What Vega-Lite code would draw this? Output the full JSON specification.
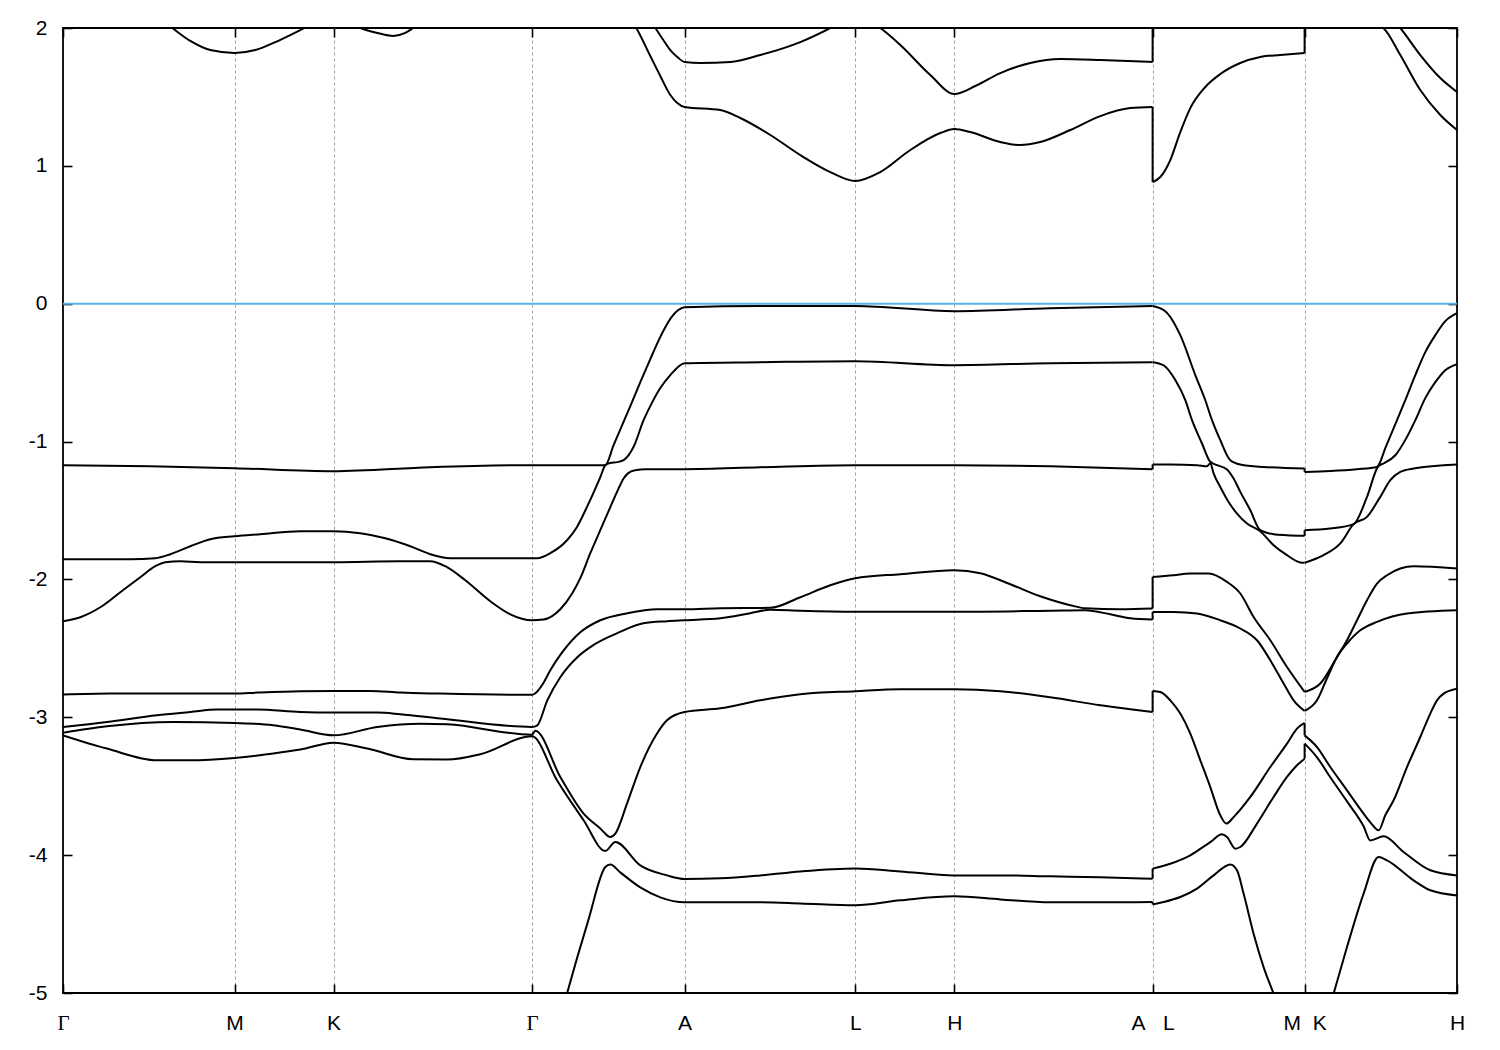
{
"$schema": "https://vega.github.io/schema/vega-lite/v6.json",
"width": 1394, "height": 965,
"autosize": {"type": "none"},
"padding": {"left": 63, "top": 28, "right": 43, "bottom": 57},
"background": "white",
"config": {
  "view": {"stroke": "black", "strokeWidth": 1.8},
  "axis": {"labelFont": "Liberation Sans", "labelFontSize": 21, "labelColor": "black", "tickColor": "black", "tickWidth": 1.6, "domain": false, "title": null, "labelFlush": false, "labelOverlap": false}
},
"datasets": {
"jumps": [
{"k":10.896,"e1":-1.200,"e2":-1.166},{"k":10.896,"e1":-2.211,"e2":-1.982},{"k":10.896,"e1":-2.291,"e2":-2.236},{"k":10.896,"e1":-2.962,"e2":-2.809},{"k":10.896,"e1":-4.171,"e2":-4.098},{"k":10.896,"e1":-4.340,"e2":-4.357},{"k":10.896,"e1":1.427,"e2":0.882},{"k":10.896,"e1":1.753,"e2":2.3},
{"k":12.416,"e1":-1.195,"e2":-1.220},{"k":12.416,"e1":-1.684,"e2":-1.643},{"k":12.416,"e1":-3.041,"e2":-3.131},{"k":12.416,"e1":-3.300,"e2":-3.191},{"k":12.416,"e1":1.819,"e2":2.2}
],
"bands": [
{"b":"v1a","k":0,"e":-1.171},{"b":"v1a","k":0.873,"e":-1.179},{"b":"v1a","k":1.716,"e":-1.193},{"b":"v1a","k":2.706,"e":-1.215},{"b":"v1a","k":3.673,"e":-1.186},{"b":"v1a","k":4.69,"e":-1.171},{"b":"v1a","k":5.373,"e":-1.171},{"b":"v1a","k":5.423,"e":-1.171},{"b":"v1a","k":5.506,"e":-1.026},{"b":"v1a","k":5.613,"e":-0.845},{"b":"v1a","k":5.673,"e":-0.743},{"b":"v1a","k":5.773,"e":-0.569},{"b":"v1a","k":5.873,"e":-0.402},{"b":"v1a","k":5.953,"e":-0.271},{"b":"v1a","k":6.023,"e":-0.170},{"b":"v1a","k":6.093,"e":-0.090},{"b":"v1a","k":6.153,"e":-0.046},{"b":"v1a","k":6.216,"e":-0.025},{"b":"v1a","k":6.973,"e":-0.017},{"b":"v1a","k":7.923,"e":-0.017},{"b":"v1a","k":8.913,"e":-0.054},{"b":"v1a","k":9.873,"e":-0.032},{"b":"v1a","k":10.896,"e":-0.017},
{"b":"v1b","k":10.896,"e":-0.017},{"b":"v1b","k":11.023,"e":-0.054},{"b":"v1b","k":11.173,"e":-0.228},{"b":"v1b","k":11.323,"e":-0.518},{"b":"v1b","k":11.423,"e":-0.700},{"b":"v1b","k":11.49,"e":-0.845},{"b":"v1b","k":11.573,"e":-0.990},{"b":"v1b","k":11.673,"e":-1.135},{"b":"v1b","k":11.773,"e":-1.166},{"b":"v1b","k":12.003,"e":-1.184},{"b":"v1b","k":12.416,"e":-1.195},
{"b":"v1c","k":12.416,"e":-1.220},{"b":"v1c","k":12.673,"e":-1.213},{"b":"v1c","k":12.94,"e":-1.200},{"b":"v1c","k":13.14,"e":-1.184},{"b":"v1c","k":13.156,"e":-1.171},{"b":"v1c","k":13.223,"e":-1.048},{"b":"v1c","k":13.34,"e":-0.845},{"b":"v1c","k":13.423,"e":-0.700},{"b":"v1c","k":13.523,"e":-0.518},{"b":"v1c","k":13.623,"e":-0.351},{"b":"v1c","k":13.723,"e":-0.228},{"b":"v1c","k":13.823,"e":-0.126},{"b":"v1c","k":13.94,"e":-0.068},
{"b":"v2a","k":0,"e":-1.853},{"b":"v2a","k":0.373,"e":-1.853},{"b":"v2a","k":0.673,"e":-1.853},{"b":"v2a","k":0.923,"e":-1.846},{"b":"v2a","k":1.073,"e":-1.817},{"b":"v2a","k":1.273,"e":-1.759},{"b":"v2a","k":1.473,"e":-1.708},{"b":"v2a","k":1.716,"e":-1.687},{"b":"v2a","k":1.973,"e":-1.672},{"b":"v2a","k":2.373,"e":-1.650},{"b":"v2a","k":2.706,"e":-1.650},{"b":"v2a","k":2.973,"e":-1.665},{"b":"v2a","k":3.223,"e":-1.701},{"b":"v2a","k":3.473,"e":-1.759},{"b":"v2a","k":3.673,"e":-1.817},{"b":"v2a","k":3.873,"e":-1.846},{"b":"v2a","k":4.273,"e":-1.846},{"b":"v2a","k":4.69,"e":-1.846},{"b":"v2a","k":4.743,"e":-1.846},{"b":"v2a","k":4.873,"e":-1.810},{"b":"v2a","k":5.04,"e":-1.716},{"b":"v2a","k":5.14,"e":-1.619},{"b":"v2a","k":5.24,"e":-1.474},{"b":"v2a","k":5.373,"e":-1.258},{"b":"v2a","k":5.423,"e":-1.171},{"b":"v2a","k":5.473,"e":-1.155},{"b":"v2a","k":5.543,"e":-1.149},{"b":"v2a","k":5.606,"e":-1.135},{"b":"v2a","k":5.706,"e":-1.038},{"b":"v2a","k":5.806,"e":-0.845},{"b":"v2a","k":5.893,"e":-0.714},{"b":"v2a","k":5.973,"e":-0.612},{"b":"v2a","k":6.073,"e":-0.518},{"b":"v2a","k":6.216,"e":-0.431},{"b":"v2a","k":6.973,"e":-0.424},{"b":"v2a","k":7.923,"e":-0.417},{"b":"v2a","k":8.913,"e":-0.446},{"b":"v2a","k":9.873,"e":-0.431},{"b":"v2a","k":10.896,"e":-0.424},
{"b":"v2b","k":10.896,"e":-0.424},{"b":"v2b","k":11.003,"e":-0.446},{"b":"v2b","k":11.123,"e":-0.554},{"b":"v2b","k":11.223,"e":-0.700},{"b":"v2b","k":11.29,"e":-0.845},{"b":"v2b","k":11.39,"e":-1.014},{"b":"v2b","k":11.473,"e":-1.147},{"b":"v2b","k":11.54,"e":-1.171},{"b":"v2b","k":11.64,"e":-1.202},{"b":"v2b","k":11.706,"e":-1.268},{"b":"v2b","k":11.773,"e":-1.365},{"b":"v2b","k":11.873,"e":-1.498},{"b":"v2b","k":11.973,"e":-1.643},{"b":"v2b","k":12.106,"e":-1.672},{"b":"v2b","k":12.24,"e":-1.679},{"b":"v2b","k":12.416,"e":-1.684},
{"b":"v2c","k":12.416,"e":-1.643},{"b":"v2c","k":12.673,"e":-1.631},{"b":"v2c","k":12.906,"e":-1.599},{"b":"v2c","k":13.04,"e":-1.401},{"b":"v2c","k":13.153,"e":-1.179},{"b":"v2c","k":13.206,"e":-1.159},{"b":"v2c","k":13.323,"e":-1.099},{"b":"v2c","k":13.44,"e":-0.966},{"b":"v2c","k":13.523,"e":-0.845},{"b":"v2c","k":13.623,"e":-0.685},{"b":"v2c","k":13.723,"e":-0.569},{"b":"v2c","k":13.823,"e":-0.482},{"b":"v2c","k":13.94,"e":-0.438},
{"b":"v3a","k":0,"e":-2.303},{"b":"v3a","k":0.173,"e":-2.274},{"b":"v3a","k":0.373,"e":-2.202},{"b":"v3a","k":0.573,"e":-2.093},{"b":"v3a","k":0.773,"e":-1.984},{"b":"v3a","k":0.923,"e":-1.904},{"b":"v3a","k":1.023,"e":-1.875},{"b":"v3a","k":1.173,"e":-1.868},{"b":"v3a","k":1.373,"e":-1.875},{"b":"v3a","k":1.716,"e":-1.875},{"b":"v3a","k":2.373,"e":-1.875},{"b":"v3a","k":2.706,"e":-1.875},{"b":"v3a","k":3.373,"e":-1.868},{"b":"v3a","k":3.673,"e":-1.868},{"b":"v3a","k":3.823,"e":-1.904},{"b":"v3a","k":4.023,"e":-2.006},{"b":"v3a","k":4.273,"e":-2.158},{"b":"v3a","k":4.473,"e":-2.253},{"b":"v3a","k":4.69,"e":-2.296},{"b":"v3a","k":4.803,"e":-2.291},{"b":"v3a","k":4.973,"e":-2.216},{"b":"v3a","k":5.093,"e":-2.100},{"b":"v3a","k":5.173,"e":-1.991},{"b":"v3a","k":5.273,"e":-1.810},{"b":"v3a","k":5.373,"e":-1.643},{"b":"v3a","k":5.473,"e":-1.476},{"b":"v3a","k":5.553,"e":-1.345},{"b":"v3a","k":5.606,"e":-1.268},{"b":"v3a","k":5.653,"e":-1.229},{"b":"v3a","k":5.723,"e":-1.208},{"b":"v3a","k":5.823,"e":-1.200},{"b":"v3a","k":6.216,"e":-1.200},{"b":"v3a","k":6.973,"e":-1.186},{"b":"v3a","k":7.923,"e":-1.171},{"b":"v3a","k":8.913,"e":-1.171},{"b":"v3a","k":9.873,"e":-1.179},{"b":"v3a","k":10.896,"e":-1.200},
{"b":"v3b","k":10.896,"e":-1.166},{"b":"v3b","k":11.073,"e":-1.166},{"b":"v3b","k":11.34,"e":-1.171},{"b":"v3b","k":11.44,"e":-1.179},{"b":"v3b","k":11.473,"e":-1.157},{"b":"v3b","k":11.506,"e":-1.231},{"b":"v3b","k":11.573,"e":-1.329},{"b":"v3b","k":11.656,"e":-1.438},{"b":"v3b","k":11.74,"e":-1.522},{"b":"v3b","k":11.84,"e":-1.594},{"b":"v3b","k":11.973,"e":-1.650},{"b":"v3b","k":12.106,"e":-1.752},{"b":"v3b","k":12.24,"e":-1.824},{"b":"v3b","k":12.373,"e":-1.877},{"b":"v3b","k":12.416,"e":-1.879},
{"b":"v3c","k":12.416,"e":-1.879},{"b":"v3c","k":12.606,"e":-1.824},{"b":"v3c","k":12.773,"e":-1.739},{"b":"v3c","k":12.906,"e":-1.599},{"b":"v3c","k":13.04,"e":-1.546},{"b":"v3c","k":13.173,"e":-1.401},{"b":"v3c","k":13.273,"e":-1.280},{"b":"v3c","k":13.373,"e":-1.220},{"b":"v3c","k":13.506,"e":-1.195},{"b":"v3c","k":13.94,"e":-1.166},
{"b":"v4a","k":0,"e":-2.835},{"b":"v4a","k":0.473,"e":-2.828},{"b":"v4a","k":1.716,"e":-2.828},{"b":"v4a","k":1.943,"e":-2.821},{"b":"v4a","k":2.373,"e":-2.811},{"b":"v4a","k":2.706,"e":-2.809},{"b":"v4a","k":3.073,"e":-2.809},{"b":"v4a","k":3.373,"e":-2.821},{"b":"v4a","k":3.773,"e":-2.828},{"b":"v4a","k":4.69,"e":-2.837},{"b":"v4a","k":4.723,"e":-2.826},{"b":"v4a","k":4.803,"e":-2.753},{"b":"v4a","k":4.873,"e":-2.659},{"b":"v4a","k":4.993,"e":-2.528},{"b":"v4a","k":5.173,"e":-2.383},{"b":"v4a","k":5.373,"e":-2.296},{"b":"v4a","k":5.643,"e":-2.245},{"b":"v4a","k":5.943,"e":-2.216},{"b":"v4a","k":6.216,"e":-2.216},{"b":"v4a","k":6.573,"e":-2.209},{"b":"v4a","k":7.073,"e":-2.206},{"b":"v4a","k":7.373,"e":-2.129},{"b":"v4a","k":7.673,"e":-2.042},{"b":"v4a","k":7.923,"e":-1.991},{"b":"v4a","k":8.373,"e":-1.962},{"b":"v4a","k":8.913,"e":-1.933},{"b":"v4a","k":9.173,"e":-1.955},{"b":"v4a","k":9.473,"e":-2.035},{"b":"v4a","k":9.773,"e":-2.122},{"b":"v4a","k":10.073,"e":-2.187},{"b":"v4a","k":10.223,"e":-2.209},{"b":"v4a","k":10.573,"e":-2.216},{"b":"v4a","k":10.896,"e":-2.211},
{"b":"v4b","k":10.896,"e":-1.982},{"b":"v4b","k":11.106,"e":-1.970},{"b":"v4b","k":11.273,"e":-1.957},{"b":"v4b","k":11.456,"e":-1.957},{"b":"v4b","k":11.64,"e":-2.018},{"b":"v4b","k":11.773,"e":-2.102},{"b":"v4b","k":11.906,"e":-2.272},{"b":"v4b","k":12.073,"e":-2.441},{"b":"v4b","k":12.24,"e":-2.635},{"b":"v4b","k":12.416,"e":-2.816},
{"b":"v4c","k":12.416,"e":-2.816},{"b":"v4c","k":12.573,"e":-2.755},{"b":"v4c","k":12.74,"e":-2.562},{"b":"v4c","k":12.84,"e":-2.441},{"b":"v4c","k":12.94,"e":-2.296},{"b":"v4c","k":13.04,"e":-2.151},{"b":"v4c","k":13.14,"e":-2.030},{"b":"v4c","k":13.24,"e":-1.970},{"b":"v4c","k":13.373,"e":-1.921},{"b":"v4c","k":13.506,"e":-1.904},{"b":"v4c","k":13.94,"e":-1.921},
{"b":"v5a","k":0,"e":-3.070},{"b":"v5a","k":0.44,"e":-3.034},{"b":"v5a","k":0.94,"e":-2.985},{"b":"v5a","k":1.273,"e":-2.962},{"b":"v5a","k":1.54,"e":-2.944},{"b":"v5a","k":1.94,"e":-2.944},{"b":"v5a","k":2.373,"e":-2.962},{"b":"v5a","k":2.706,"e":-2.966},{"b":"v5a","k":3.143,"e":-2.966},{"b":"v5a","k":3.373,"e":-2.978},{"b":"v5a","k":3.773,"e":-3.009},{"b":"v5a","k":4.69,"e":-3.070},{"b":"v5a","k":4.743,"e":-3.058},{"b":"v5a","k":4.843,"e":-2.877},{"b":"v5a","k":4.973,"e":-2.710},{"b":"v5a","k":5.143,"e":-2.565},{"b":"v5a","k":5.303,"e":-2.477},{"b":"v5a","k":5.543,"e":-2.390},{"b":"v5a","k":5.803,"e":-2.318},{"b":"v5a","k":6.043,"e":-2.303},{"b":"v5a","k":6.216,"e":-2.296},{"b":"v5a","k":6.573,"e":-2.282},{"b":"v5a","k":6.873,"e":-2.245},{"b":"v5a","k":7.073,"e":-2.220},{"b":"v5a","k":7.373,"e":-2.227},{"b":"v5a","k":7.923,"e":-2.234},{"b":"v5a","k":8.913,"e":-2.234},{"b":"v5a","k":9.873,"e":-2.227},{"b":"v5a","k":10.223,"e":-2.224},{"b":"v5a","k":10.473,"e":-2.253},{"b":"v5a","k":10.673,"e":-2.282},{"b":"v5a","k":10.896,"e":-2.291},
{"b":"v5b","k":10.896,"e":-2.236},{"b":"v5b","k":11.106,"e":-2.236},{"b":"v5b","k":11.34,"e":-2.247},{"b":"v5b","k":11.573,"e":-2.296},{"b":"v5b","k":11.773,"e":-2.356},{"b":"v5b","k":11.94,"e":-2.441},{"b":"v5b","k":12.073,"e":-2.586},{"b":"v5b","k":12.206,"e":-2.755},{"b":"v5b","k":12.306,"e":-2.877},{"b":"v5b","k":12.416,"e":-2.954},
{"b":"v5c","k":12.416,"e":-2.954},{"b":"v5c","k":12.54,"e":-2.877},{"b":"v5c","k":12.64,"e":-2.717},{"b":"v5c","k":12.74,"e":-2.562},{"b":"v5c","k":12.84,"e":-2.465},{"b":"v5c","k":12.973,"e":-2.369},{"b":"v5c","k":13.14,"e":-2.308},{"b":"v5c","k":13.44,"e":-2.247},{"b":"v5c","k":13.94,"e":-2.224},
{"b":"v6a","k":0,"e":-3.112},{"b":"v6a","k":0.44,"e":-3.065},{"b":"v6a","k":1.103,"e":-3.034},{"b":"v6a","k":1.716,"e":-3.041},{"b":"v6a","k":2.103,"e":-3.058},{"b":"v6a","k":2.373,"e":-3.089},{"b":"v6a","k":2.706,"e":-3.131},{"b":"v6a","k":3.143,"e":-3.070},{"b":"v6a","k":3.573,"e":-3.046},{"b":"v6a","k":3.843,"e":-3.051},{"b":"v6a","k":4.69,"e":-3.127},{"b":"v6a","k":4.723,"e":-3.098},{"b":"v6a","k":4.973,"e":-3.433},{"b":"v6a","k":5.206,"e":-3.699},{"b":"v6a","k":5.373,"e":-3.806},{"b":"v6a","k":5.473,"e":-3.869},{"b":"v6a","k":5.523,"e":-3.844},{"b":"v6a","k":5.64,"e":-3.626},{"b":"v6a","k":5.773,"e":-3.361},{"b":"v6a","k":5.94,"e":-3.118},{"b":"v6a","k":6.04,"e":-3.022},{"b":"v6a","k":6.216,"e":-2.962},{"b":"v6a","k":6.573,"e":-2.935},{"b":"v6a","k":6.973,"e":-2.877},{"b":"v6a","k":7.373,"e":-2.833},{"b":"v6a","k":7.923,"e":-2.811},{"b":"v6a","k":8.373,"e":-2.797},{"b":"v6a","k":8.913,"e":-2.797},{"b":"v6a","k":9.373,"e":-2.811},{"b":"v6a","k":9.873,"e":-2.855},{"b":"v6a","k":10.373,"e":-2.913},{"b":"v6a","k":10.673,"e":-2.942},{"b":"v6a","k":10.896,"e":-2.962},
{"b":"v6b","k":10.896,"e":-2.809},{"b":"v6b","k":10.973,"e":-2.816},{"b":"v6b","k":11.073,"e":-2.877},{"b":"v6b","k":11.173,"e":-2.973},{"b":"v6b","k":11.273,"e":-3.118},{"b":"v6b","k":11.373,"e":-3.312},{"b":"v6b","k":11.473,"e":-3.506},{"b":"v6b","k":11.573,"e":-3.711},{"b":"v6b","k":11.633,"e":-3.771},{"b":"v6b","k":11.706,"e":-3.724},{"b":"v6b","k":11.873,"e":-3.578},{"b":"v6b","k":12.073,"e":-3.361},{"b":"v6b","k":12.24,"e":-3.191},{"b":"v6b","k":12.34,"e":-3.082},{"b":"v6b","k":12.416,"e":-3.041},
{"b":"v6c","k":12.416,"e":-3.131},{"b":"v6c","k":12.54,"e":-3.216},{"b":"v6c","k":12.673,"e":-3.361},{"b":"v6c","k":12.84,"e":-3.530},{"b":"v6c","k":13.006,"e":-3.699},{"b":"v6c","k":13.073,"e":-3.762},{"b":"v6c","k":13.156,"e":-3.820},{"b":"v6c","k":13.223,"e":-3.711},{"b":"v6c","k":13.306,"e":-3.602},{"b":"v6c","k":13.44,"e":-3.361},{"b":"v6c","k":13.573,"e":-3.143},{"b":"v6c","k":13.673,"e":-2.973},{"b":"v6c","k":13.74,"e":-2.877},{"b":"v6c","k":13.806,"e":-2.828},{"b":"v6c","k":13.94,"e":-2.792},
{"b":"v7a","k":0,"e":-3.131},{"b":"v7a","k":0.44,"e":-3.227},{"b":"v7a","k":0.94,"e":-3.312},{"b":"v7a","k":1.273,"e":-3.312},{"b":"v7a","k":1.716,"e":-3.295},{"b":"v7a","k":2.103,"e":-3.263},{"b":"v7a","k":2.373,"e":-3.234},{"b":"v7a","k":2.706,"e":-3.184},{"b":"v7a","k":3.043,"e":-3.227},{"b":"v7a","k":3.503,"e":-3.305},{"b":"v7a","k":3.843,"e":-3.307},{"b":"v7a","k":4.173,"e":-3.268},{"b":"v7a","k":4.69,"e":-3.138},{"b":"v7a","k":4.94,"e":-3.457},{"b":"v7a","k":5.206,"e":-3.747},{"b":"v7a","k":5.423,"e":-3.970},{"b":"v7a","k":5.523,"e":-3.905},{"b":"v7a","k":5.773,"e":-4.074},{"b":"v7a","k":6.04,"e":-4.147},{"b":"v7a","k":6.216,"e":-4.173},{"b":"v7a","k":6.573,"e":-4.168},{"b":"v7a","k":6.973,"e":-4.147},{"b":"v7a","k":7.373,"e":-4.118},{"b":"v7a","k":7.923,"e":-4.096},{"b":"v7a","k":8.373,"e":-4.118},{"b":"v7a","k":8.913,"e":-4.147},{"b":"v7a","k":9.373,"e":-4.147},{"b":"v7a","k":9.873,"e":-4.154},{"b":"v7a","k":10.373,"e":-4.161},{"b":"v7a","k":10.896,"e":-4.171},
{"b":"v7b","k":10.896,"e":-4.098},{"b":"v7b","k":11.073,"e":-4.062},{"b":"v7b","k":11.273,"e":-4.001},{"b":"v7b","k":11.473,"e":-3.905},{"b":"v7b","k":11.59,"e":-3.849},{"b":"v7b","k":11.64,"e":-3.869},{"b":"v7b","k":11.723,"e":-3.953},{"b":"v7b","k":11.773,"e":-3.941},{"b":"v7b","k":11.94,"e":-3.771},{"b":"v7b","k":12.106,"e":-3.578},{"b":"v7b","k":12.24,"e":-3.433},{"b":"v7b","k":12.34,"e":-3.348},{"b":"v7b","k":12.416,"e":-3.300},
{"b":"v7c","k":12.416,"e":-3.191},{"b":"v7c","k":12.54,"e":-3.290},{"b":"v7c","k":12.673,"e":-3.435},{"b":"v7c","k":12.84,"e":-3.610},{"b":"v7c","k":13.006,"e":-3.791},{"b":"v7c","k":13.073,"e":-3.893},{"b":"v7c","k":13.206,"e":-3.863},{"b":"v7c","k":13.406,"e":-3.977},{"b":"v7c","k":13.673,"e":-4.110},{"b":"v7c","k":13.94,"e":-4.147},
{"b":"v8a","k":4.69,"e":-6.0},{"b":"v8a","k":5.043,"e":-4.996},{"b":"v8a","k":5.253,"e":-4.473},{"b":"v8a","k":5.423,"e":-4.086},{"b":"v8a","k":5.473,"e":-4.067},{"b":"v8a","k":5.573,"e":-4.125},{"b":"v8a","k":5.773,"e":-4.234},{"b":"v8a","k":5.973,"e":-4.306},{"b":"v8a","k":6.216,"e":-4.342},{"b":"v8a","k":6.973,"e":-4.342},{"b":"v8a","k":7.373,"e":-4.350},{"b":"v8a","k":7.923,"e":-4.364},{"b":"v8a","k":8.373,"e":-4.328},{"b":"v8a","k":8.913,"e":-4.299},{"b":"v8a","k":9.373,"e":-4.321},{"b":"v8a","k":9.873,"e":-4.342},{"b":"v8a","k":10.373,"e":-4.342},{"b":"v8a","k":10.896,"e":-4.340},
{"b":"v8b","k":10.896,"e":-4.357},{"b":"v8b","k":11.006,"e":-4.340},{"b":"v8b","k":11.173,"e":-4.304},{"b":"v8b","k":11.34,"e":-4.243},{"b":"v8b","k":11.506,"e":-4.147},{"b":"v8b","k":11.673,"e":-4.067},{"b":"v8b","k":11.74,"e":-4.110},{"b":"v8b","k":11.806,"e":-4.279},{"b":"v8b","k":11.906,"e":-4.570},{"b":"v8b","k":12.006,"e":-4.812},{"b":"v8b","k":12.106,"e":-5.005},{"b":"v8b","k":12.416,"e":-5.6},
{"b":"v8c","k":12.416,"e":-5.75},{"b":"v8c","k":12.706,"e":-5.005},{"b":"v8c","k":12.84,"e":-4.667},{"b":"v8c","k":13.006,"e":-4.279},{"b":"v8c","k":13.156,"e":-4.014},{"b":"v8c","k":13.24,"e":-4.038},{"b":"v8c","k":13.506,"e":-4.183},{"b":"v8c","k":13.673,"e":-4.255},{"b":"v8c","k":13.94,"e":-4.292},
{"b":"c1a","k":0,"e":2.7},{"b":"c1a","k":0.573,"e":2.3},{"b":"c1a","k":1.093,"e":2.0},{"b":"c1a","k":1.273,"e":1.906},{"b":"c1a","k":1.473,"e":1.840},{"b":"c1a","k":1.716,"e":1.819},{"b":"c1a","k":1.923,"e":1.840},{"b":"c1a","k":2.123,"e":1.898},{"b":"c1a","k":2.373,"e":1.985},{"b":"c1a","k":2.706,"e":2.1},{"b":"c1a","k":2.973,"e":2.0},{"b":"c1a","k":3.143,"e":1.964},{"b":"c1a","k":3.303,"e":1.942},{"b":"c1a","k":3.423,"e":1.964},{"b":"c1a","k":3.503,"e":2.0},{"b":"c1a","k":3.873,"e":2.2},{"b":"c1a","k":4.69,"e":2.6},{"b":"c1a","k":5.373,"e":2.25},{"b":"c1a","k":5.733,"e":2.0},{"b":"c1a","k":5.873,"e":1.797},{"b":"c1a","k":5.973,"e":1.652},{"b":"c1a","k":6.073,"e":1.514},{"b":"c1a","k":6.143,"e":1.456},{"b":"c1a","k":6.216,"e":1.427},{"b":"c1a","k":6.573,"e":1.405},{"b":"c1a","k":6.773,"e":1.347},{"b":"c1a","k":7.073,"e":1.224},{"b":"c1a","k":7.373,"e":1.078},{"b":"c1a","k":7.673,"e":0.955},{"b":"c1a","k":7.923,"e":0.890},{"b":"c1a","k":8.173,"e":0.955},{"b":"c1a","k":8.473,"e":1.115},{"b":"c1a","k":8.773,"e":1.238},{"b":"c1a","k":8.913,"e":1.267},{"b":"c1a","k":9.073,"e":1.245},{"b":"c1a","k":9.373,"e":1.173},{"b":"c1a","k":9.573,"e":1.151},{"b":"c1a","k":9.773,"e":1.173},{"b":"c1a","k":10.073,"e":1.260},{"b":"c1a","k":10.373,"e":1.361},{"b":"c1a","k":10.673,"e":1.419},{"b":"c1a","k":10.896,"e":1.427},
{"b":"c1b","k":10.896,"e":0.882},{"b":"c1b","k":10.973,"e":0.919},{"b":"c1b","k":11.073,"e":1.042},{"b":"c1b","k":11.173,"e":1.245},{"b":"c1b","k":11.273,"e":1.419},{"b":"c1b","k":11.423,"e":1.572},{"b":"c1b","k":11.573,"e":1.666},{"b":"c1b","k":11.773,"e":1.746},{"b":"c1b","k":11.973,"e":1.790},{"b":"c1b","k":12.173,"e":1.804},{"b":"c1b","k":12.416,"e":1.819},
{"b":"c1c","k":12.416,"e":2.2},{"b":"c1c","k":12.873,"e":2.1},{"b":"c1c","k":13.203,"e":2.0},{"b":"c1c","k":13.373,"e":1.804},{"b":"c1c","k":13.573,"e":1.550},{"b":"c1c","k":13.773,"e":1.369},{"b":"c1c","k":13.94,"e":1.260},
{"b":"c2a","k":4.69,"e":2.9},{"b":"c2a","k":5.773,"e":2.15},{"b":"c2a","k":5.923,"e":2.0},{"b":"c2a","k":6.003,"e":1.913},{"b":"c2a","k":6.073,"e":1.840},{"b":"c2a","k":6.143,"e":1.790},{"b":"c2a","k":6.216,"e":1.753},{"b":"c2a","k":6.373,"e":1.746},{"b":"c2a","k":6.673,"e":1.753},{"b":"c2a","k":6.973,"e":1.804},{"b":"c2a","k":7.373,"e":1.898},{"b":"c2a","k":7.673,"e":2.0},{"b":"c2a","k":7.923,"e":2.1},{"b":"c2a","k":8.173,"e":2.0},{"b":"c2a","k":8.373,"e":1.877},{"b":"c2a","k":8.673,"e":1.659},{"b":"c2a","k":8.913,"e":1.521},{"b":"c2a","k":9.123,"e":1.579},{"b":"c2a","k":9.373,"e":1.673},{"b":"c2a","k":9.673,"e":1.746},{"b":"c2a","k":9.973,"e":1.775},{"b":"c2a","k":10.373,"e":1.768},{"b":"c2a","k":10.896,"e":1.753},
{"b":"c2c","k":12.416,"e":2.5},{"b":"c2c","k":12.873,"e":2.3},{"b":"c2c","k":13.373,"e":2.0},{"b":"c2c","k":13.573,"e":1.804},{"b":"c2c","k":13.773,"e":1.637},{"b":"c2c","k":13.94,"e":1.536}
]
},
"layer": [
  {
    "data": {"values": [{"e": 0}]},
    "mark": {"type": "rule", "color": "#56b4e9", "strokeWidth": 2},
    "encoding": {
      "y": {"field": "e", "type": "quantitative", "scale": {"domain": [-5, 2], "nice": false, "zero": false}, "axis": null}
    }
  },
  {
    "data": {"name": "jumps"},
    "mark": {"type": "rule", "color": "black", "strokeWidth": 2, "clip": true},
    "encoding": {
      "x": {"field": "k", "type": "quantitative", "scale": {"domain": [0, 13.94], "nice": false, "zero": false}, "axis": null},
      "y": {"field": "e1", "type": "quantitative", "scale": {"domain": [-5, 2], "nice": false, "zero": false}, "axis": null},
      "y2": {"field": "e2"}
    }
  },
  {
    "data": {"name": "bands"},
    "mark": {"type": "line", "color": "black", "strokeWidth": 2, "clip": true, "interpolate": "monotone"},
    "encoding": {
      "x": {"field": "k", "type": "quantitative", "scale": {"domain": [0, 13.94], "nice": false, "zero": false},
        "axis": {"orient": "bottom", "values": [0, 1.716, 2.706, 4.69, 6.216, 7.923, 8.913, 10.896, 12.416, 13.94],
          "labelExpr": "datum.value < 0.5 ? 'Γ' : datum.value < 2 ? 'M' : datum.value < 3 ? 'K' : datum.value < 5 ? 'Γ' : datum.value < 7 ? 'A' : datum.value < 8.5 ? 'L' : datum.value < 10 ? 'H' : datum.value < 11 ? 'A\u00a0\u00a0\u00a0L' : datum.value < 13 ? 'M\u00a0\u00a0K' : 'H'",
          "labelFont": {"condition": {"test": "datum.value < 0.5 || (datum.value > 4.5 && datum.value < 5)", "value": "Liberation Serif"}, "value": "Liberation Sans"},
          "tickSize": -9, "labelPadding": 28,
          "grid": true, "gridColor": "#a0a0a0", "gridDash": [3, 3], "gridWidth": 1,
          "gridOpacity": {"condition": {"test": "datum.value < 0.1 || datum.value > 13.9", "value": 0}, "value": 1}}},
      "y": {"field": "e", "type": "quantitative", "scale": {"domain": [-5, 2], "nice": false, "zero": false},
        "axis": {"orient": "left", "values": [-5, -4, -3, -2, -1, 0, 1, 2], "labelExpr": "datum.value + ''", "tickSize": -9, "labelPadding": 25, "grid": false}},
      "detail": {"field": "b", "type": "nominal"},
      "order": {"value": null}
    }
  },
  {
    "data": {"values": [{"k": 0, "e": 0}]},
    "mark": {"type": "point", "opacity": 0},
    "encoding": {
      "x": {"field": "k", "type": "quantitative", "scale": {"domain": [0, 13.94], "nice": false, "zero": false},
        "axis": {"orient": "top", "values": [0, 1.716, 2.706, 4.69, 6.216, 7.923, 8.913, 10.896, 12.416, 13.94], "labels": false, "tickSize": -9, "grid": false}},
      "y": {"field": "e", "type": "quantitative", "scale": {"domain": [-5, 2], "nice": false, "zero": false},
        "axis": {"orient": "right", "values": [-5, -4, -3, -2, -1, 0, 1, 2], "labels": false, "tickSize": -9, "grid": false}}
    }
  }
],
"resolve": {"axis": {"x": "independent", "y": "independent"}}
}
